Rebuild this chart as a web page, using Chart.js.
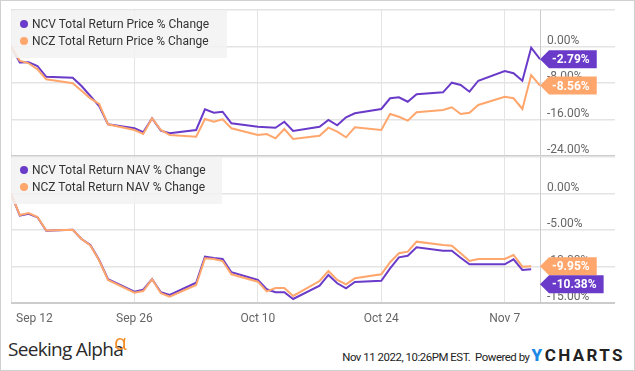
<!DOCTYPE html>
<html>
<head>
<meta charset="utf-8">
<title>NCV vs NCZ total return</title>
<script src="https://cdn.jsdelivr.net/npm/chart.js@4.4.0/dist/chart.umd.min.js"></script>
<style>
  body { margin: 0; background: #fff; font-family: Roboto, sans-serif; }
  #wrap { position: relative; width: 635px; height: 371px; overflow: hidden; }
  #wrap canvas { position: absolute; left: 0; }
  #topChart { top: 0; }
  #bottomChart { top: 155px; }
  #border { position: absolute; left: 0; top: 0; width: 633px; height: 369px; border: 1px solid #d0d0d0; pointer-events: none; }
  .legend { position: absolute; left: 11px; background: rgba(242, 242, 242, 0.85); font-size: 12px; color: #333; }
  .legend div { position: absolute; left: 21px; white-space: nowrap; line-height: 14px; }
  .legend span { position: absolute; left: -12px; top: 3px; width: 8px; height: 8px; border-radius: 50%; }
  #sa { position: absolute; left: 8px; top: 337px; font-family: "Open Sans", sans-serif; font-size: 19px; line-height: 24px; color: #2a2a2a; letter-spacing: -0.7px; }
  #alpha { position: absolute; left: 114px; top: 331px; font-family: "Open Sans", sans-serif; font-size: 21px; line-height: 22px; color: #f28c28; }
  #credit { position: absolute; right: 10px; top: 345px; display: flex; align-items: baseline; white-space: nowrap; }
  #stamp { font-family: Roboto, sans-serif; font-size: 11.4px; letter-spacing: -0.45px; color: #222; }
  #yc { margin-left: 2px; font-family: Roboto, sans-serif; font-weight: bold; font-size: 17px; letter-spacing: 2.4px; color: #222; }
  #yc b { color: #1e88e5; }
</style>
</head>
<body>
<div id="wrap">
  <canvas id="topChart" width="635" height="160"></canvas>
  <canvas id="bottomChart" width="635" height="180"></canvas>
  <div class="legend" style="top:11px;width:216px;height:47px;">
    <div style="top:6px"><span style="background:#6a3bc9"></span>NCV Total Return Price % Change</div>
    <div style="top:23px"><span style="background:#ffa66c"></span>NCZ Total Return Price % Change</div>
  </div>
  <div class="legend" style="top:158px;width:211px;height:46px;">
    <div style="top:5px"><span style="background:#6a3bc9"></span>NCV Total Return NAV % Change</div>
    <div style="top:22px"><span style="background:#ffa66c"></span>NCZ Total Return NAV % Change</div>
  </div>
  <div id="sa">Seeking Alpha</div>
  <div id="alpha">α</div>
  <div id="credit">
    <span id="stamp">Nov 11 2022, 10:26PM EST.&nbsp; Powered by</span>
    <span id="yc"><b>Y</b>CHARTS</span>
  </div>
  <div id="border"></div>
</div>
<script>
// days since Sep 12 2022, trading days only
const tradingDays = [0, 1, 2, 3, 4, 7, 8, 9, 10, 11, 14, 15, 16, 17, 18, 21, 22, 23, 24, 25,
  28, 29, 30, 31, 32, 35, 36, 37, 38, 39, 42, 43, 44, 45, 46, 49, 50, 51, 52, 53, 56, 57, 58, 59, 60];

const ncvPrice = [0, -3.50, -3.44, -4.27, -6.64, -6.86, -8.66, -10.85, -13.04, -17.05, -17.93, -18.80,
  -15.74, -18.45, -19.02, -18.30, -13.76, -14.51, -14.29, -16.83, -17.58, -17.71, -17.80, -16.50, -18.52,
  -17.58, -16.11, -17.27, -15.52, -14.64, -13.70, -11.35, -11.13, -12.10, -10.48, -10.04, -7.93, -8.44,
  -9.91, -7.50, -5.37, -5.87, -7.50, -0.26, -2.79];
const nczPrice = [0, -3.11, -3.68, -5.00, -7.19, -8.07, -9.69, -11.36, -12.60, -17.05, -18.30, -19.18,
  -15.74, -18.30, -19.40, -19.77, -15.89, -16.48, -15.96, -17.93, -19.40, -19.18, -20.12, -18.08, -20.27,
  -19.55, -17.80, -18.67, -19.90, -17.71, -18.30, -14.79, -15.39, -16.26, -14.42, -13.92, -13.33, -14.79,
  -14.51, -12.82, -11.00, -11.35, -13.70, -6.25, -8.56];
// NAV has no Nov 11 value yet
const ncvNav = [0, -3.04, -2.77, -3.26, -5.10, -4.96, -6.23, -7.05, -9.11, -11.75, -13.45, -13.18,
  -11.75, -13.53, -13.90, -12.22, -8.66, -8.84, -8.97, -10.79, -11.85, -13.12, -13.53, -13.53, -14.45,
  -12.63, -11.16, -12.30, -12.99, -12.12, -11.95, -10.25, -8.74, -8.52, -7.37, -7.84, -7.84, -8.79,
  -9.70, -9.70, -9.70, -9.01, -10.48, -10.38];
const nczNav = [0, -2.95, -2.67, -3.22, -5.07, -4.96, -6.23, -7.12, -9.18, -11.85, -13.59, -13.36,
  -11.75, -13.67, -14.14, -12.53, -8.88, -8.97, -9.25, -11.07, -12.08, -13.40, -12.95, -12.95, -14.04,
  -11.99, -10.62, -11.85, -12.44, -11.62, -11.07, -9.42, -8.19, -7.97, -6.60, -7.05, -7.15, -8.19,
  -9.25, -8.97, -8.97, -8.42, -10.03, -9.95];

const xTickDays = [0, 14, 28, 42, 56];
const xTickLabels = ['Sep 12', 'Sep 26', 'Oct 10', 'Oct 24', 'Nov 7'];
const priceTicks = [8, 0, -8, -16, -24];
const navTicks = [5, 0, -5, -10, -15];

const purple = '#6a3bc9';
const orange = '#ffa66c';
const gridColor = '#e4e4e4';

function toPoints(values) {
  return values.map((v, i) => ({ x: tradingDays[i], y: v }));
}

// right border of the plot and thicker bottom rule
const frameLines = {
  id: 'frameLines',
  beforeDatasetsDraw(chart) {
    const { ctx, chartArea: a } = chart;
    ctx.save();
    ctx.strokeStyle = '#cccccc';
    ctx.lineWidth = 1;
    ctx.beginPath();
    ctx.moveTo(a.right + 0.5, a.top);
    ctx.lineTo(a.right + 0.5, a.bottom);
    ctx.stroke();
    ctx.lineWidth = 2;
    ctx.beginPath();
    ctx.moveTo(a.left, a.bottom);
    ctx.lineTo(a.right + 75, a.bottom);
    ctx.stroke();
    ctx.restore();
  }
};

// value tags on the right axis
const endTags = {
  id: 'endTags',
  afterDraw(chart) {
    const { ctx, chartArea: a, scales } = chart;
    const h = 18;
    ctx.save();
    ctx.font = 'bold 12px Roboto';
    const items = chart.data.datasets.map(ds => {
      const last = ds.data[ds.data.length - 1];
      return { y: scales.y.getPixelForValue(last.y), text: last.y.toFixed(2) + '%', color: ds.borderColor };
    }).sort((p, q) => p.y - q.y);
    let prevBottom = -Infinity;
    items.forEach(it => {
      const cy = Math.max(it.y, prevBottom + h / 2);
      prevBottom = cy + h / 2;
      const w = ctx.measureText(it.text).width + 10;
      const xb = a.right + 9;
      ctx.fillStyle = it.color;
      ctx.beginPath();
      ctx.moveTo(a.right, cy);
      ctx.lineTo(xb, cy - h / 2);
      ctx.lineTo(xb + w, cy - h / 2);
      ctx.lineTo(xb + w, cy + h / 2);
      ctx.lineTo(xb, cy + h / 2);
      ctx.closePath();
      ctx.fill();
      ctx.fillStyle = '#fff';
      ctx.textAlign = 'left';
      ctx.textBaseline = 'middle';
      ctx.fillText(it.text, xb + 3, cy + 1);
    });
    ctx.restore();
  }
};

// date labels under the lower panel, first one pushed inside
const dateLabels = {
  id: 'dateLabels',
  afterDraw(chart) {
    if (!chart.options.plugins.dateLabels.show) return;
    const { ctx, chartArea: a, scales } = chart;
    ctx.save();
    ctx.font = '12px Roboto';
    ctx.fillStyle = '#666';
    ctx.textBaseline = 'middle';
    xTickDays.forEach((d, i) => {
      const px = scales.x.getPixelForValue(d);
      ctx.textAlign = i === 0 ? 'left' : 'center';
      ctx.fillText(xTickLabels[i], i === 0 ? px + 5 : px, a.bottom + 16);
    });
    ctx.restore();
  }
};

function makeChart(id, ncv, ncz, labels, yTicks, padding, showDates) {
  return new Chart(document.getElementById(id), {
    type: 'line',
    data: {
      datasets: [
        { label: labels[0], data: toPoints(ncv), borderColor: purple, borderWidth: 2, order: 1 },
        { label: labels[1], data: toPoints(ncz), borderColor: orange, borderWidth: 2, order: 0 }
      ]
    },
    options: {
      responsive: false,
      animation: false,
      devicePixelRatio: 1,
      layout: { padding },
      elements: { point: { radius: 0 }, line: { tension: 0 } },
      plugins: { legend: { display: false }, tooltip: { enabled: false }, dateLabels: { show: showDates } },
      scales: {
        x: {
          type: 'linear',
          min: 0,
          max: 60,
          afterBuildTicks: s => { s.ticks = xTickDays.map(v => ({ value: v })); },
          afterFit: s => { s.height = 0; },
          grid: { color: gridColor, drawTicks: false },
          border: { display: false },
          ticks: { display: false }
        },
        y: {
          position: 'right',
          min: yTicks[yTicks.length - 1],
          max: yTicks[0],
          afterBuildTicks: s => { s.ticks = yTicks.map(v => ({ value: v })); },
          afterFit: s => { s.width = 75; },
          grid: { color: gridColor, drawTicks: true, tickLength: 75, lineWidth: 1.5 },
          border: { display: false },
          ticks: {
            padding: -68,
            labelOffset: -6,
            color: '#666',
            font: { size: 12, family: 'Roboto' },
            callback: v => v === yTicks[0] ? '' : v.toFixed(2) + '%'
          }
        }
      }
    },
    plugins: [frameLines, endTags, dateLabels]
  });
}

makeChart('topChart', ncvPrice, nczPrice,
  ['NCV Total Return Price % Change', 'NCZ Total Return Price % Change'],
  priceTicks, { left: 11, top: 10, right: 20, bottom: 4 }, false);
makeChart('bottomChart', ncvNav, nczNav,
  ['NCV Total Return NAV % Change', 'NCZ Total Return NAV % Change'],
  navTicks, { left: 11, top: 2, right: 20, bottom: 32 }, true);
</script>
</body>
</html>
